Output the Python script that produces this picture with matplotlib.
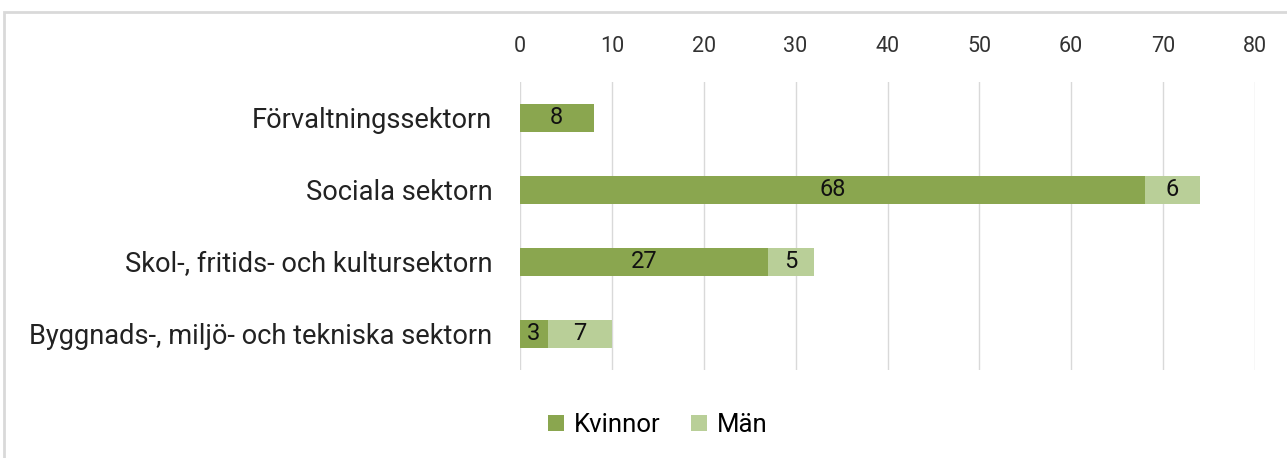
import matplotlib
matplotlib.use("Agg")
import matplotlib.pyplot as plt
from matplotlib.patches import Rectangle

categories = ["Förvaltningssektorn", "Sociala sektorn",
              "Skol-, fritids- och kultursektorn",
              "Byggnads-, miljö- och tekniska sektorn"]
kvinnor = [8, 68, 27, 3]
man = [0, 6, 5, 7]
xticks = [0, 10, 20, 30, 40, 50, 60, 70, 80]

c_k = "#8aa64f"
c_m = "#b9cf98"
plt.rcParams['font.family'] = ['Roboto', 'DejaVu Sans']

W, H = 1287, 458
fig = plt.figure(figsize=(W/100, H/100), dpi=100)
ax = fig.add_axes([520/W, 1-370/H, (1255-520)/W, 288/H])

y = list(range(len(categories)))
ax.barh(y, kvinnor, height=0.4, color=c_k, label="Kvinnor", zorder=3)
ax.barh(y, man, left=kvinnor, height=0.4, color=c_m, label="Män", zorder=3)
for i in y:
    if kvinnor[i]:
        ax.text(kvinnor[i]/2, i, str(kvinnor[i]), ha='center', va='center', fontsize=17, color='#111111', zorder=4)
    if man[i]:
        ax.text(kvinnor[i]+man[i]/2, i, str(man[i]), ha='center', va='center', fontsize=17, color='#111111', zorder=4)

ax.set_xlim(0, 80)
ax.set_ylim(3.5, -0.5)
ax.set_xticks(xticks)
ax.xaxis.tick_top()
ax.tick_params(axis='x', length=0, labelsize=15.5, pad=18, colors='#333333')
ax.tick_params(axis='y', length=0, labelsize=19.6, pad=20, colors='#222222')
ax.set_yticks(y)
ax.set_yticklabels(categories)
ax.grid(axis='x', color='#d9d9d9', linewidth=1, zorder=0)
for s in ax.spines.values():
    s.set_visible(False)

fig.legend(loc='center', bbox_to_anchor=(658/W, 1-425/H), ncol=2, frameon=False,
           fontsize=18.5, handlelength=0.6, handleheight=0.6, columnspacing=1.2, handletextpad=0.4)

fig.patches.append(Rectangle((4/W, -0.1), 1.2, 1-12/H+0.1, transform=fig.transFigure,
                             fill=False, edgecolor='#d9d9d9', linewidth=2))
fig.savefig("out.png", dpi=100)
